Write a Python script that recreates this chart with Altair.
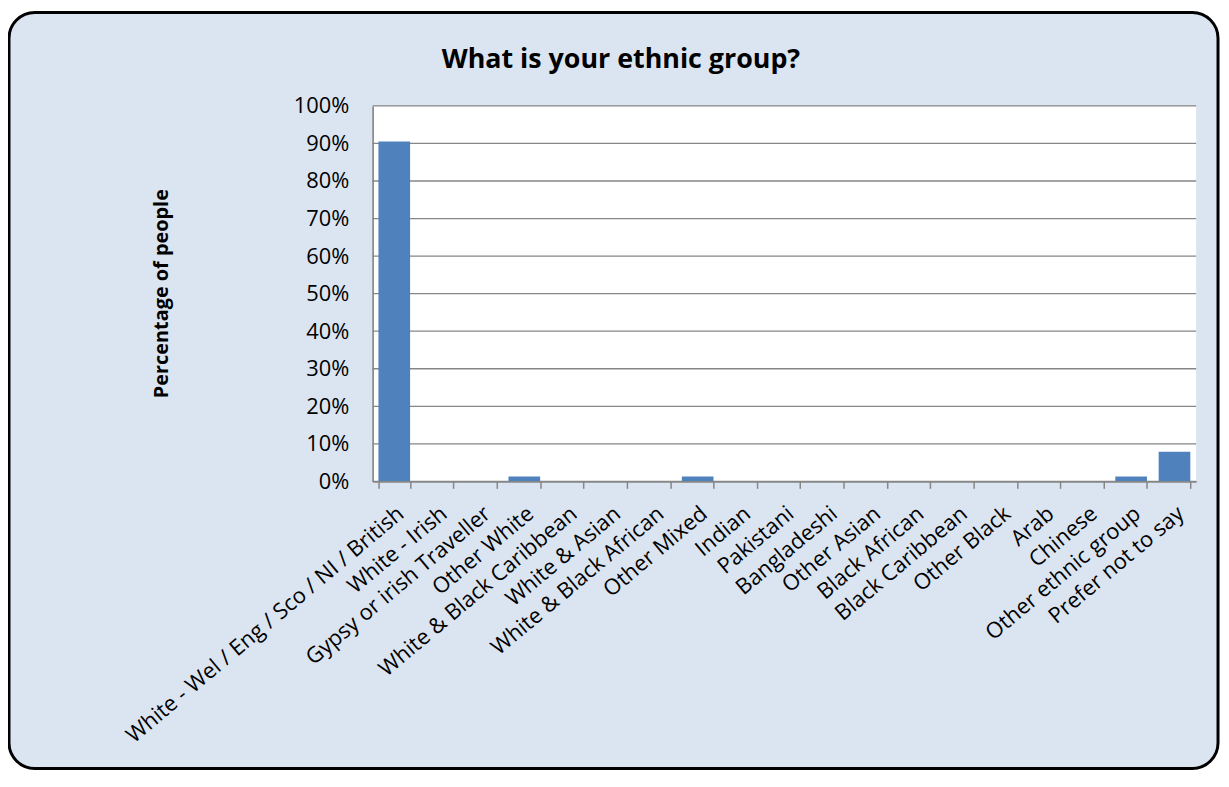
import altair as alt
import pandas as pd

categories = [
    "White - Wel / Eng / Sco / NI / British", "White - Irish", "Gypsy or irish Traveller",
    "Other White", "White & Black Caribbean", "White & Asian", "White & Black African",
    "Other Mixed", "Indian", "Pakistani", "Bangladeshi", "Other Asian", "Black African",
    "Black Caribbean", "Other Black", "Arab", "Chinese", "Other ethnic group",
    "Prefer not to say",
]
values = [0.905, 0, 0, 0.013, 0, 0, 0, 0.013, 0, 0, 0, 0, 0, 0, 0, 0, 0, 0.013, 0.079]
y_ticks = [0, 0.1, 0.2, 0.3, 0.4, 0.5, 0.6, 0.7, 0.8, 0.9, 1.0]
title_text = "What is your ethnic group?"
y_title = "Percentage of people"

W, H = 829, 378
PL, PT, PR, PB = 367, 96, 25, 292
FONT = "Open Sans"
GRID = "#868686"

df = pd.DataFrame({"cat": categories, "pct": values})
ticks_df = pd.DataFrame({"pct": y_ticks})
one = pd.DataFrame({"k": [0]})

yscale = alt.Scale(domain=[0, 1], nice=False, zero=True)
y_axis = alt.Axis(
    values=y_ticks, format=".0%", labelFont=FONT, labelFontSize=22,
    labelColor="black", labelPadding=24, ticks=False,
    domainColor=GRID, domainWidth=1.7, grid=False, zindex=1,
)

bg = alt.Chart(one).mark_rect(
    fill="#DBE5F1", stroke="black", strokeWidth=3, cornerRadius=26
).encode(
    x=alt.value(1 - PL), x2=alt.value(1218 - PL),
    y=alt.value(2 - PT), y2=alt.value(763 - PT),
)

plot_bg = alt.Chart(one).mark_rect(fill="white").encode(
    x=alt.value(0), x2=alt.value(W), y=alt.value(0), y2=alt.value(H)
)

grid = alt.Chart(ticks_df).mark_rule(color=GRID, strokeWidth=1.3).encode(
    y=alt.Y("pct:Q", scale=yscale, axis=y_axis, title=None),
    x=alt.value(0), x2=alt.value(W),
)

bars = alt.Chart(df).mark_bar(color="#4F81BD").encode(
    x=alt.X(
        "cat:N", sort=None, title=None,
        scale=alt.Scale(paddingInner=0.27, paddingOuter=0.135),
        axis=alt.Axis(
            labelAngle=-40, labelAlign="right", labelBaseline="middle",
            labelFont=FONT, labelFontSize=22, labelColor="black",
            labelPadding=22, labelOffset=6, labelLimit=700,
            domainColor=GRID, domainWidth=1.7,
            tickColor=GRID, tickWidth=1.5, tickSize=7, tickBand="extent",
            grid=False, zindex=1,
        ),
    ),
    y=alt.Y("pct:Q", scale=yscale, axis=y_axis, title=None),
)

title = alt.Chart(one).mark_text(
    font=FONT, fontSize=27, fontWeight="bold", color="black",
    align="center", baseline="alphabetic",
).encode(x=alt.value(250), y=alt.value(-38), text=alt.value(title_text))

ytitle = alt.Chart(one).mark_text(
    font=FONT, fontSize=20, fontWeight="bold", color="black",
    align="center", baseline="middle", angle=270,
).encode(x=alt.value(-212), y=alt.value(H / 2), text=alt.value(y_title))

chart = alt.layer(bg, plot_bg, grid, bars, title, ytitle).properties(
    width=W, height=H,
    autosize=alt.AutoSizeParams(type="none"),
    padding={"left": PL, "top": PT, "right": PR, "bottom": PB},
    background="white",
).configure_view(strokeOpacity=0)

chart.save("out.html", embed_options={"renderer": "svg", "actions": False})
